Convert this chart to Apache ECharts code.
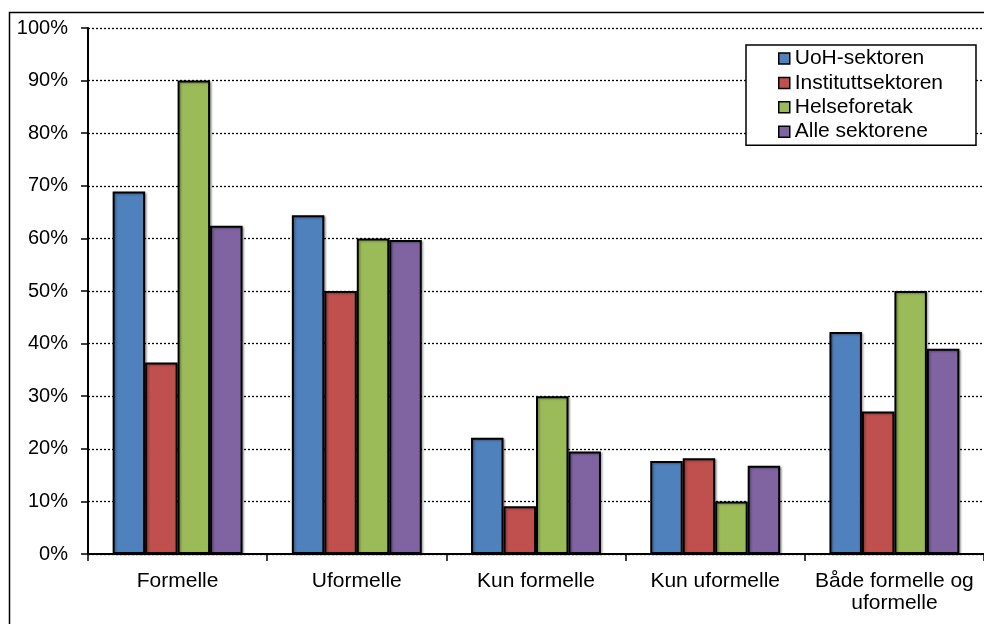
<!DOCTYPE html>
<html>
<head>
<meta charset="utf-8">
<script src="https://cdn.jsdelivr.net/npm/echarts@6/dist/echarts.min.js"></script>
<style>
  html, body { margin: 0; padding: 0; background: #fff; }
  #chart { width: 984px; height: 624px; }
</style>
</head>
<body>
<div id="chart"></div>
<script>
// Categories along the x axis
var categories = ['Formelle', 'Uformelle', 'Kun formelle', 'Kun uformelle', 'Både formelle og\nuformelle'];

// Share of respondents (%) per sector
var uohSektoren        = [68.9, 64.4, 22.1, 17.7, 42.2];
var instituttsektoren  = [36.4, 50.0, 9.1, 18.2, 27.1];
var helseforetak       = [90.0, 60.0, 30.0, 10.0, 50.0];
var alleSektorene      = [62.4, 59.7, 19.5, 16.8, 39.0];

var seriesNames = ['UoH-sektoren', 'Instituttsektoren', 'Helseforetak', 'Alle sektorene'];
var seriesData = [uohSektoren, instituttsektoren, helseforetak, alleSektorene];
var seriesColors = ['#4F81BD', '#C0504D', '#9BBB59', '#8064A2'];

// Value axis ticks
var yMin = 0, yMax = 100, yStep = 10;

var FONT = 'Liberation Sans, Arial, sans-serif';

var chart = echarts.init(document.getElementById('chart'), null, { renderer: 'canvas' });

var series = seriesNames.map(function (name, i) {
  return {
    name: name,
    type: 'bar',
    data: seriesData[i],
    barGap: '0%',
    barCategoryGap: '27.5%',
    itemStyle: {
      color: seriesColors[i],
      borderColor: '#000',
      borderWidth: 2,
      shadowColor: 'rgba(0,0,0,0.3)',
      shadowBlur: 2,
      shadowOffsetX: 1.5,
      shadowOffsetY: 1
    },
    emphasis: { disabled: true },
    animation: false
  };
});

chart.setOption({
  backgroundColor: '#fff',
  animation: false,
  textStyle: { fontFamily: FONT },
  graphic: [{
    type: 'rect',
    shape: { x: 9.5, y: 12.5, width: 1200, height: 900 },
    style: { fill: 'none', stroke: '#000', lineWidth: 1.5 },
    z: -10,
    silent: true
  }],
  grid: { left: 88, top: 28, right: -7, bottom: 70, containLabel: false },
  legend: {
    orient: 'vertical',
    left: 746,
    top: 45,
    padding: [3, 33, 3, 32],
    itemGap: 3.4,
    itemWidth: 11,
    itemHeight: 11,
    icon: 'rect',
    backgroundColor: '#fff',
    borderColor: '#000',
    borderWidth: 1.5,
    itemStyle: { borderColor: '#000', borderWidth: 1.5, shadowBlur: 0, shadowOffsetX: 0, shadowOffsetY: 0 },
    textStyle: { fontFamily: FONT, fontSize: 21, color: '#000', lineHeight: 21 },
    selectedMode: false,
    data: seriesNames
  },
  xAxis: {
    type: 'category',
    data: categories,
    axisLine: { show: true, lineStyle: { color: '#000', width: 2 } },
    axisTick: { show: true, length: 7, lineStyle: { color: '#000', width: 1.5 } },
    axisLabel: { fontFamily: FONT, fontSize: 21, color: '#000', margin: 16, lineHeight: 22, interval: 0 },
    splitLine: { show: false }
  },
  yAxis: {
    type: 'value',
    min: yMin,
    max: yMax,
    interval: yStep,
    axisLine: { show: true, lineStyle: { color: '#000', width: 2 } },
    axisTick: { show: true, length: 7, lineStyle: { color: '#000', width: 1.5 } },
    axisLabel: { fontFamily: FONT, fontSize: 20, color: '#000', margin: 20, formatter: '{value}%' },
    splitLine: { show: true, lineStyle: { color: '#000', width: 1.3, type: [2, 2] } }
  },
  series: series
});
</script>
</body>
</html>
